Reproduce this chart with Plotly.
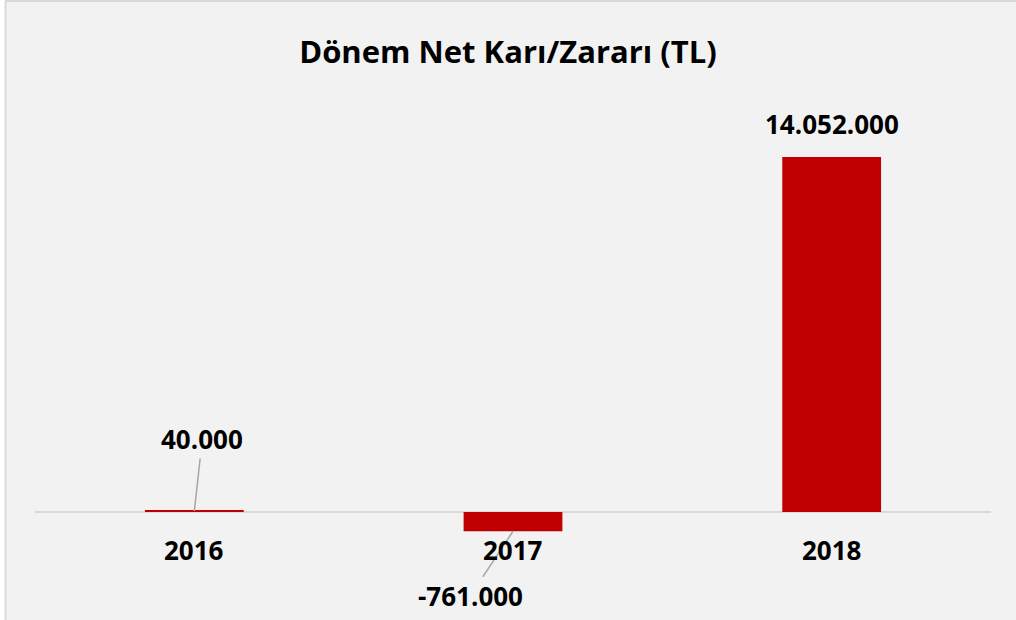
import plotly.graph_objects as go

years = ["2016", "2017", "2018"]
values = [40000, -761000, 14052000]
label_offsets_x = [8, -43, 0]
label_offsets_y = [-72, 65, 0]

def tr_fmt(v):
    return f"{v:,}".replace(",", ".")

W, H = 1016, 620
ML, MR, MT, MB = 35, 25, 100, 20
PW, PH = W - ML - MR, H - MT - MB

bar_color = "#c00000"
bg = "#f2f2f2"
font_family = "Open Sans"
label_size = 26

fig = go.Figure()
fig.add_trace(go.Bar(
    x=years, y=values,
    marker=dict(color=bar_color, line=dict(width=0)),
    width=0.31,
    hoverinfo="skip",
))

annotations = []
for i, (yr, v, ax, ay) in enumerate(zip(years, values, label_offsets_x, label_offsets_y)):
    if ax == 0 and ay == 0:
        annotations.append(dict(
            x=i, y=v, xref="x", yref="y", text="<b>" + tr_fmt(v) + "</b>",
            showarrow=False, yanchor="bottom", yshift=13,
            font=dict(family=font_family, size=label_size, color="#000000"),
        ))
    else:
        annotations.append(dict(
            x=i, y=v, xref="x", yref="y", text="<b>" + tr_fmt(v) + "</b>",
            showarrow=True, arrowhead=0, arrowwidth=1.5, arrowcolor="#a6a6a6",
            ax=ax, ay=ay, axref="pixel", ayref="pixel",
            font=dict(family=font_family, size=label_size, color="#000000"),
        ))
    annotations.append(dict(
        x=i, y=0, xref="x", yref="y", text="<b>" + yr + "</b>", showarrow=False,
        yanchor="middle", yshift=-38,
        font=dict(family=font_family, size=label_size, color="#000000"),
    ))

# y scale: zero at pixel 512, 14,052,000 at pixel 157
ppu = (512 - 157) / 14052000
y_bottom = -(MT + PH - 512) / ppu
y_top = (512 - MT) / ppu

shapes = [
    dict(type="rect", xref="paper", yref="paper",
         x0=(0 - ML) / PW, x1=(5 - ML) / PW, y0=-0.1, y1=1.3,
         fillcolor="white", line=dict(width=0), layer="below"),
    dict(type="line", xref="paper", yref="paper",
         x0=(5.5 - ML) / PW, x1=(5.5 - ML) / PW, y0=-0.1, y1=(H - MB - 1) / PH,
         line=dict(color="#d9d9d9", width=2)),
    dict(type="line", xref="paper", yref="paper",
         x0=(5 - ML) / PW, x1=1.1, y0=(H - MB - 1) / PH, y1=(H - MB - 1) / PH,
         line=dict(color="#d9d9d9", width=2)),
]

fig.update_layout(
    width=W, height=H,
    margin=dict(l=ML, r=MR, t=MT, b=MB),
    paper_bgcolor=bg, plot_bgcolor=bg,
    showlegend=False,
    title=dict(text="<b>Dönem Net Karı/Zararı (TL)</b>", x=0.5, xanchor="center",
               y=1 - 52 / H, yanchor="middle",
               font=dict(family=font_family, size=31, color="#000000")),
    xaxis=dict(type="category", showticklabels=False, showgrid=False, zeroline=False,
               showline=False, ticks="", range=[-0.5, 2.5]),
    yaxis=dict(showticklabels=False, showgrid=False, zeroline=True,
               zerolinecolor="#d9d9d9", zerolinewidth=2, showline=False,
               ticks="", range=[y_bottom, y_top]),
    annotations=annotations,
    shapes=shapes,
)

fig.write_html("out.html", config={"displayModeBar": False},
               post_script="document.body.style.margin='0';")
